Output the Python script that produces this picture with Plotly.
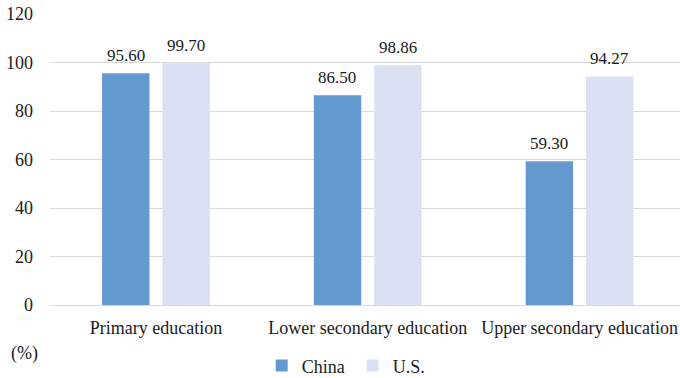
import plotly.graph_objects as go

categories = ["Primary education", "Lower secondary education", "Upper secondary education"]
china = [95.60, 86.50, 59.30]
us = [99.70, 98.86, 94.27]
y_ticks = [0, 20, 40, 60, 80, 100, 120]

FONT = "Liberation Serif, Times New Roman, serif"
C_CHINA = "#6399CE"
C_US = "#D9E1F2"
TXT = "#1a1a1a"

fig = go.Figure()
fig.add_trace(go.Bar(x=categories, y=china, name="China", marker_color=C_CHINA,
                     marker_line_width=0))
fig.add_trace(go.Bar(x=categories, y=us, name="U.S.", marker_color=C_US,
                     marker_line_width=0))

# value labels above each bar (each bar sits half a slot off the category centre)
for vals, off in ((china, -0.143), (us, 0.143)):
    for i, v in enumerate(vals):
        fig.add_annotation(x=i + off, y=v, text=f"{v:.2f}", showarrow=False,
                           yanchor="bottom", yshift=6, xref="x", yref="y",
                           font=dict(family=FONT, size=17, color=TXT))

# unit label below the axis
fig.add_annotation(text="(%)", x=-0.041, y=-0.168, xref="paper", yref="paper",
                   xanchor="center", yanchor="middle", showarrow=False,
                   font=dict(family=FONT, size=18, color=TXT))

fig.update_layout(
    width=680, height=378,
    margin=dict(l=50, r=0, t=14, b=73, autoexpand=False),
    paper_bgcolor="white", plot_bgcolor="white",
    barmode="group", bargap=0.43, bargroupgap=0.215,
    font=dict(family=FONT, size=18, color=TXT),
    showlegend=True,
    legend=dict(orientation="h", x=0.336, xanchor="left", y=0.032, yref="container",
                yanchor="middle",
                font=dict(family=FONT, size=18, color=TXT),
                entrywidth=46, entrywidthmode="pixels", traceorder="normal"),
    xaxis=dict(type="category", range=[-0.5, 2.474], showgrid=False, automargin=False,
               showline=False, ticks="", ticklabelstandoff=10,
               tickfont=dict(family=FONT, size=18, color=TXT)),
    yaxis=dict(range=[0, 120], tickvals=y_ticks, showgrid=True, gridcolor="#D9D9D9",
               gridwidth=1, zeroline=True, zerolinecolor="#D9D9D9", zerolinewidth=1,
               automargin=False, showline=False, ticks="", ticklabelstandoff=16,
               tickfont=dict(family=FONT, size=18, color=TXT)),
)

fig.write_html("out.html")
